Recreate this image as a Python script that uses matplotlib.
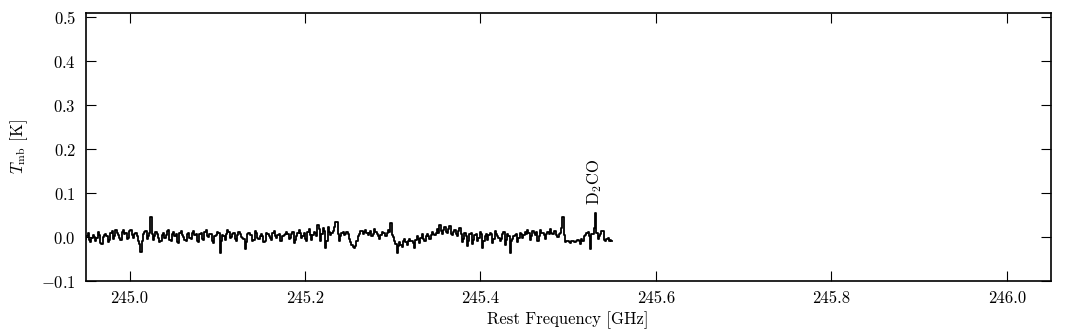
import matplotlib

matplotlib.use("Agg")
import matplotlib.pyplot as plt
import numpy as np

# spectrum: 420 channels between 244.95 and 245.55 GHz, intensities in mK
F_START = 244.950
F_STOP = 245.550
TMB_MK = [
    -4, 2, 9, -6, -12, -3, 5, 1, -8, -2, 11, 4, -13, -16, 0, 5, 8, 3, -11, -7,
    10, 14, -4, 2, 17, 9, 5, -2, -7, 12, 15, 6, 9, -5, -2, 13, 17, 4, -3, 7,
    10, 2, -9, -15, -34, -8, 6, 12, 14, -5, 3, 10, 45, 8, -6, 2, 12, 6, -3, -12,
    -10, 5, 9, -2, 4, 14, 17, -6, -9, 7, 11, 3, 6, -12, -14, 10, 14, 4, 1, -6,
    -8, 6, 10, -1, -4, 9, 13, 5, 7, -9, -11, 6, 9, -4, -6, 12, 17, 3, 0, 8,
    6, -10, -13, 2, 4, 11, 9, -37, -8, 4, 2, -6, 8, 15, 12, -2, 0, 7, 9, -5,
    -9, 4, 12, 8, 1, -3, -5, -27, -12, 6, 9, 4, 5, -8, -6, 13, 10, -2, -4, 3,
    6, 2, -11, -8, 10, 6, 2, -3, -6, 10, 14, 3, -1, 5, 7, -9, -10, 2, 4, 8,
    11, 6, -5, -2, 8, 12, -14, -6, 3, 9, 15, 10, -3, 2, 9, -4, -8, 12, 18, 5,
    -6, 4, 12, 9, 2, 27, 18, -10, 6, 20, 14, -25, -8, 24, 12, 5, 9, 14, 22, 35,
    35, 6, -8, 2, 10, 12, 4, 8, 12, 6, -5, -12, -18, -22, -25, -20, -10, 3, 8, 14,
    14, 8, 12, 16, 9, 5, 10, 13, 2, 6, 18, 12, 6, 3, -4, 4, 12, 10, 9, 3,
    9, 15, 12, 32, 5, 0, -8, -15, -36, -20, -12, -18, -22, -10, -5, -12, -18, -8, -4, -8,
    -8, -14, -26, -6, 2, -4, -14, -2, 6, -4, -10, 2, 8, 3, -5, 4, 12, 6, 4, 9,
    18, 10, 27, 14, 8, 16, 22, 12, 10, 18, 26, 8, 5, 12, 15, 6, 3, 14, 20, 8,
    -12, -4, 9, 3, -20, -8, 6, 10, -15, -6, 4, 8, -8, -2, 12, 6, -25, -10, 2, 6,
    -6, 4, 10, 6, -14, -4, 14, 8, 3, -2, -10, -4, 8, 12, -18, -6, 6, 2, -36, -10,
    -5, 2, 4, 8, -12, -2, 10, 6, -2, 4, 12, 8, 16, 10, -6, 3, 14, 9, 5, 12,
    -8, 2, 15, 10, 9, 4, -4, 6, 12, 8, 18, 10, 6, 14, 14, 4, 0, 6, 10, 20,
    45, 4, -12, -8, -10, -12, -14, -9, -8, -11, -12, -8, -6, -10, -15, -4, -9, 2, 4, 10,
    12, 3, -27, 8, 6, 20, 54, 10, -5, 2, 8, 14, 14, -6, -10, -4, -2, -8, -6, -8,
]

LINE_NAMES = ["D$_2$CO"]
LINE_FREQS = [245.5306]
LINE_LABEL_Y = [0.072]

XTICKS = [245.0, 245.2, 245.4, 245.6, 245.8, 246.0]
YTICKS = [-0.1, 0.0, 0.1, 0.2, 0.3, 0.4, 0.5]

plt.rcParams.update(
    {
        "font.family": "serif",
        "font.serif": ["cmr10"],
        "mathtext.fontset": "cm",
        "axes.formatter.use_mathtext": True,
        "font.size": 12,
        "axes.linewidth": 1.2,
        "xtick.direction": "in",
        "ytick.direction": "in",
        "xtick.top": True,
        "ytick.right": True,
        "xtick.major.size": 7,
        "ytick.major.size": 7,
        "xtick.major.pad": 7,
        "ytick.major.pad": 7,
    }
)

tmb = np.array(TMB_MK) / 1000.0
freq = np.linspace(F_START, F_STOP, len(tmb))

fig = plt.figure(figsize=(10.72, 3.31), dpi=100)
ax = fig.add_axes([0.08, 0.151, 0.9, 0.81])
ax.plot(freq, tmb, color="black", linewidth=1.3, drawstyle="steps-mid")

for name, f, y in zip(LINE_NAMES, LINE_FREQS, LINE_LABEL_Y):
    ax.text(f, y, name, rotation=90, ha="center", va="bottom", fontsize=12)

ax.set_xlim(244.95, 246.05)
ax.set_ylim(-0.1, 0.51)
ax.set_xticks(XTICKS)
ax.set_yticks(YTICKS)
ax.set_xticklabels([f"{t:.1f}" for t in XTICKS])
ax.set_yticklabels([f"${t:.1f}$" for t in YTICKS])
ax.set_xlabel("Rest Frequency [GHz]")
ax.set_ylabel(r"$T_{\rm mb}$ [K]", labelpad=8)

fig.savefig("out.png", dpi=100)
